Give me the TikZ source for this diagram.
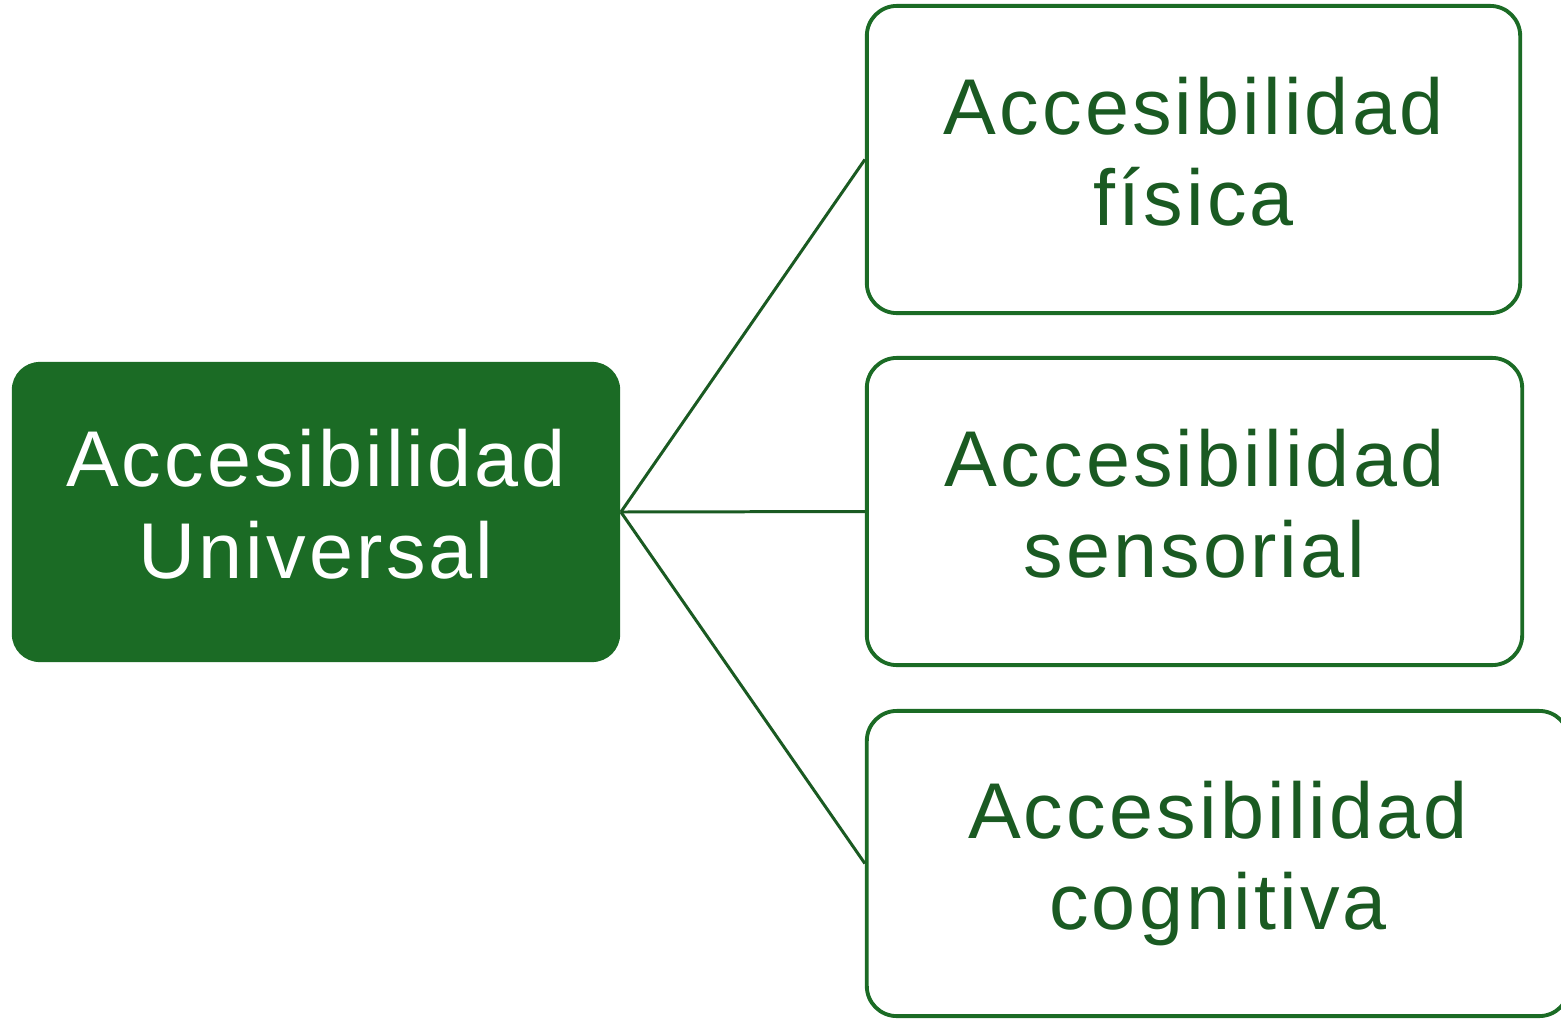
\documentclass[tikz,border=0pt]{standalone}
\usepackage{fontspec}
\setmainfont{Liberation Sans}[LetterSpace=4]
\definecolor{hoja}{HTML}{1B6B25}
\definecolor{tinta}{HTML}{1A5A22}
\begin{document}
\begin{tikzpicture}[x=0.01cm, y=-0.01cm,
    caja/.style = {draw=hoja, line width=1.1pt, rounded corners=0.3cm, align=center,
        text=tinta, inner sep=0pt, text depth=0.16cm, font=\fontsize{22.5}{26}\selectfont},
    raiz/.style = {fill=hoja, rounded corners=0.28cm, align=center, text=white,
        inner sep=0pt, text depth=0.16cm, font=\fontsize{22.5}{26}\selectfont},
    rama/.style = {draw=tinta, line width=0.85pt}]
    \useasboundingbox (0,0) rectangle (1561,1018);
    \node[raiz, minimum width=6.08cm, minimum height=3cm] (univ) at (316,512) {Accesibilidad\\Universal};
    \node[caja, minimum width=6.53cm, minimum height=3.07cm] (fisica) at (1193.5,159.5) {Accesibilidad\\física};
    \node[caja, minimum width=6.55cm, minimum height=3.07cm] (sensorial) at (1194.5,511.5) {Accesibilidad\\sensorial};
    \node[caja, minimum width=7.02cm, minimum height=3.05cm] (cognitiva) at (1218,863.5) {Accesibilidad\\cognitiva};
    \draw[rama] (univ.east) -- (fisica.west);
    \draw[rama] (univ.east) -- (sensorial.west);
    \draw[rama] (univ.east) -- (cognitiva.west);
\end{tikzpicture}
\end{document}
